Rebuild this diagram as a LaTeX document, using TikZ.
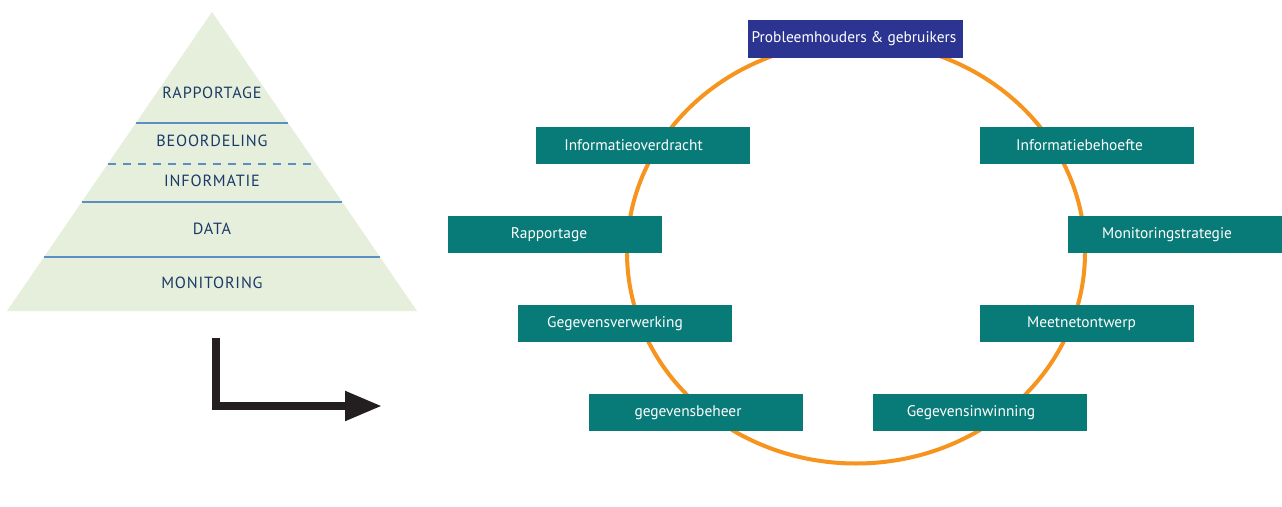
\documentclass[tikz,border=0pt]{standalone}
\usepackage{fontspec}
\setmainfont{PT Sans}
\newfontfamily\pyrfont[LetterSpace=5]{PT Sans}
\usetikzlibrary{arrows.meta}
\definecolor{pyrfill}{HTML}{E6EFDC}
\definecolor{pyrline}{HTML}{5B8EC2}
\definecolor{pyrtext}{HTML}{1B3A68}
\definecolor{teal}{HTML}{087B78}
\definecolor{navy}{HTML}{2B3591}
\definecolor{ring}{HTML}{F7941D}
\definecolor{arrowc}{HTML}{231F20}
\tikzset{
  layer/.style={draw=pyrline, line width=1.4pt},
  layertext/.style={text=pyrtext, font=\pyrfont\fontsize{16.2}{18}\selectfont, inner sep=0pt},
  tbox/.style={fill=teal, minimum width=214pt, minimum height=37pt, inner sep=0pt},
  topbox/.style={fill=navy, minimum width=215pt, minimum height=38pt, inner sep=0pt},
  btext/.style={text=white, font=\fontsize{15.4}{17}\selectfont, inner sep=0pt},
}
\begin{document}
\begin{tikzpicture}[x=1pt, y=-1pt]
\useasboundingbox (0,0) rectangle (1282,506);
\fill[white] (0,0) rectangle (1282,506);
% pyramid
\coordinate (apex) at (212,12);
\coordinate (bl) at (7,311);
\coordinate (br) at (417,311);
\fill[pyrfill] (apex) -- (br) -- (bl) -- cycle;
\draw[layer] (135.9,123) -- (288.1,123);
\draw[layer, dash pattern=on 8pt off 7pt] (107.8,164) -- (316.2,164);
\draw[layer] (81.7,202) -- (342.3,202);
\draw[layer] (44.0,257) -- (380.0,257);
\node[layertext] (p1) at (212,93) {RAPPORTAGE};
\node[layertext] (p2) at (212,141) {BEOORDELING};
\node[layertext] (p3) at (212,181) {INFORMATIE};
\node[layertext] (p4) at (212,229) {DATA};
\node[layertext] (p5) at (212,283) {MONITORING};
% arrow
\coordinate (as) at (216,338);
\coordinate (ac) at (216,406);
\coordinate (ae) at (382,406);
\draw[arrowc, line width=8pt, miter limit=10, -{Triangle[length=37pt,width=28pt]}] (as) -- (ac) -- (ae);
% ring
\draw[ring, line width=4pt] (856,252.5) ellipse [x radius=229, y radius=211];
% boxes
\node[topbox] (top) at (855.5,39) {};
\node[btext] at ([xshift=-1.5pt]top.center) {Probleemhouders \& gebruikers};
\node[tbox] (ov) at (643,145.5) {};
\node[btext] at ([xshift=-9.5pt]ov.center) {Informatieoverdracht};
\node[tbox] (ib) at (1086.5,145.5) {};
\node[btext] at ([xshift=-7pt]ib.center) {Informatiebehoefte};
\node[tbox] (ra) at (554.5,234.5) {};
\node[btext] at ([xshift=-5.5pt]ra.center) {Rapportage};
\node[tbox] (ms) at (1175,234.5) {};
\node[btext] at ([xshift=-8pt]ms.center) {Monitoringstrategie};
\node[tbox] (gv) at (625,323.5) {};
\node[btext] at ([xshift=-10pt]gv.center) {Gegevensverwerking};
\node[tbox] (mo) at (1086.5,323.5) {};
\node[btext] at ([xshift=-5pt]mo.center) {Meetnetontwerp};
\node[tbox] (gb) at (696,412.5) {};
\node[btext] at ([xshift=-8pt]gb.center) {gegevensbeheer};
\node[tbox] (gi) at (980,412.5) {};
\node[btext] at ([xshift=-9pt]gi.center) {Gegevensinwinning};
\end{tikzpicture}
\end{document}
